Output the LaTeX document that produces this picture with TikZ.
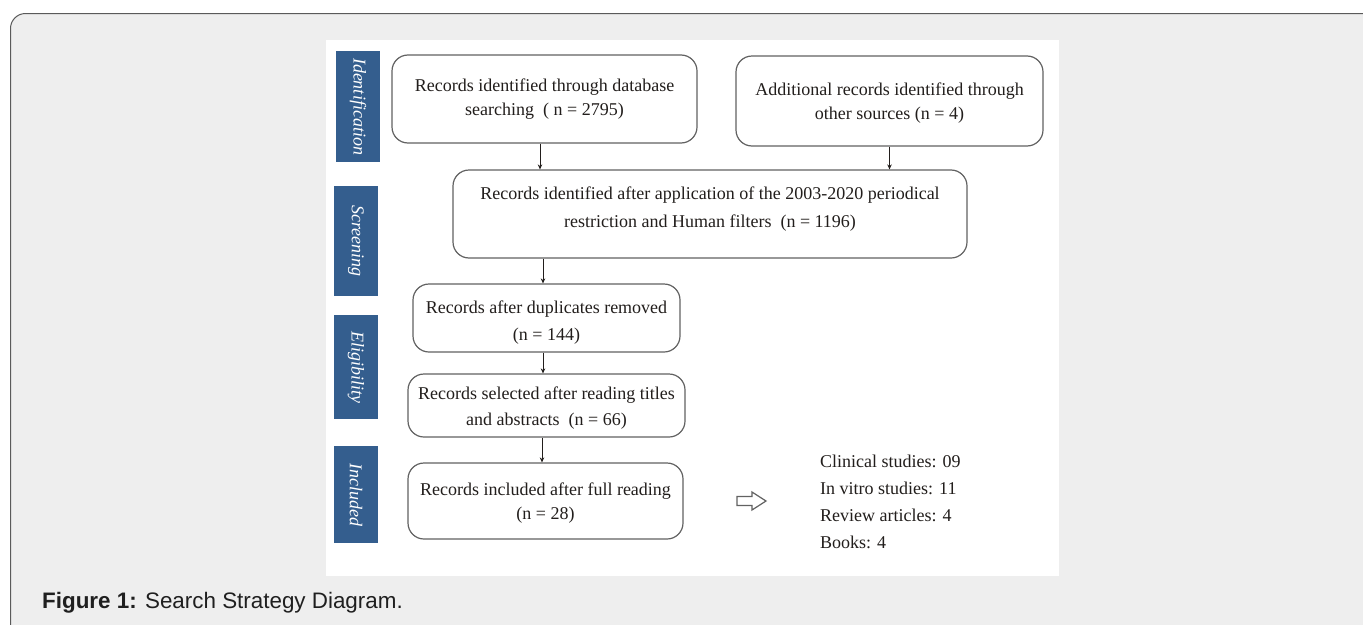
\documentclass[tikz,border=0pt]{standalone}
\usepackage{fontspec}
\setmainfont{Liberation Serif}
\newfontfamily\capfont{Liberation Sans}
\usetikzlibrary{arrows.meta}
\definecolor{panelgray}{HTML}{EEEEEE}
\definecolor{panelline}{HTML}{5A5A5A}
\definecolor{stageblue}{HTML}{345E8E}
\definecolor{boxline}{HTML}{626262}
\definecolor{inktext}{HTML}{221E1C}
\begin{document}
\begin{tikzpicture}[x=1pt,y=-1pt,
  flowbox/.style={draw=boxline, line width=1.2pt, rounded corners=16pt, fill=white, align=center, text=inktext, inner sep=0pt},
  stage/.style={fill=stageblue, rotate=-90, text=white, font=\fontsize{18}{20}\selectfont\itshape, inner sep=0pt, minimum height=44pt},
  arr/.style={draw=inktext, line width=1pt, -{Stealth[length=5pt,width=4.5pt]}},
  listitem/.style={anchor=west, text=inktext, font=\fontsize{18}{20}\selectfont, inner sep=0pt}
]
\useasboundingbox (0,0) rectangle (1363,624);
\clip (0,0) rectangle (1363,624);
\fill[white] (0,0) rectangle (1363,624);
\draw[fill=panelgray, draw=panelline, line width=1pt, rounded corners=15pt] (10.5,13.5) rectangle (1390,650);
\fill[white] (326,40) rectangle (1059,576);

% stage labels
\node[stage, minimum width=111pt] (s1) at (358,106.5) {Identification};
\node[stage, minimum width=110pt] (s2) at (356,241) {Screening};
\node[stage, minimum width=104pt] (s3) at (356,367) {Eligibility};
\node[stage, minimum width=97pt] (s4) at (356,494.5) {Included};

% boxes
\node[flowbox, minimum width=305pt, minimum height=88pt, font=\fontsize{18}{24}\selectfont] (b1) at (544.5,99) {Records identified through database\\searching~~( n = 2795)};
\node[flowbox, minimum width=307pt, minimum height=90pt, font=\fontsize{18}{24}\selectfont] (b2) at (889.5,101) {\rule{0pt}{16.5pt}Additional records identified through\\other sources (n = 4)};
\node[flowbox, minimum width=514pt, minimum height=88pt, font=\fontsize{18}{28}\selectfont] (b3) at (710,214) {Records identified after application of the 2003-2020 periodical\\restriction and Human filters~~(n = 1196)\rule[-13.5pt]{0pt}{0pt}};
\node[flowbox, minimum width=267pt, minimum height=68pt, font=\fontsize{18}{27}\selectfont] (b4) at (546.5,318) {\rule{0pt}{22.5pt}Records after duplicates removed\\(n = 144)};
\node[flowbox, minimum width=277pt, minimum height=63pt, font=\fontsize{18}{26}\selectfont] (b5) at (546.5,405.5) {\rule{0pt}{18.5pt}Records selected after reading titles\\and abstracts~~(n = 66)};
\node[flowbox, minimum width=275pt, minimum height=76pt, font=\fontsize{18}{24}\selectfont] (b6) at (545.5,501) {\rule{0pt}{16.5pt}Records included after full reading\\(n = 28)};

% connectors
\coordinate (a1) at ([xshift=-4.5pt]b1.south);
\coordinate (a2) at (b2.south);
\coordinate (a3) at ([xshift=-3.5pt]b4.north |- b3.south);
\coordinate (a4) at ([xshift=-3.5pt]b4.south);
\coordinate (a5) at ([xshift=-4.5pt]b5.south);
\draw[arr] (a1) -- (a1 |- b3.north);
\draw[arr] (a2) -- (a2 |- b3.north);
\draw[arr] (a3) -- (a3 |- b4.north);
\draw[arr] (a4) -- (a4 |- b5.north);
\draw[arr] (a5) -- (a5 |- b6.north);

% hollow arrow
\draw[draw=boxline, line width=1.2pt, fill=white, line join=miter]
  (737,496.5) -- (752,496.5) -- (752,492) -- (766,501) -- (752,510) -- (752,505.5) -- (737,505.5) -- cycle;

% list
\node[listitem] (c1) at (820,461) {Clinical studies: 09};
\node[listitem] (c2) at (820,488) {In vitro studies: 11};
\node[listitem] (c3) at (820,515) {Review articles: 4};
\node[listitem] (c4) at (820,542) {Books: 4};

% caption
\node[anchor=base west, inner sep=0pt, font=\capfont\fontsize{22.4}{26}\selectfont, text=black!88] (cap) at (42,608) {\textbf{Figure 1:} Search Strategy Diagram.};
\end{tikzpicture}
\end{document}
